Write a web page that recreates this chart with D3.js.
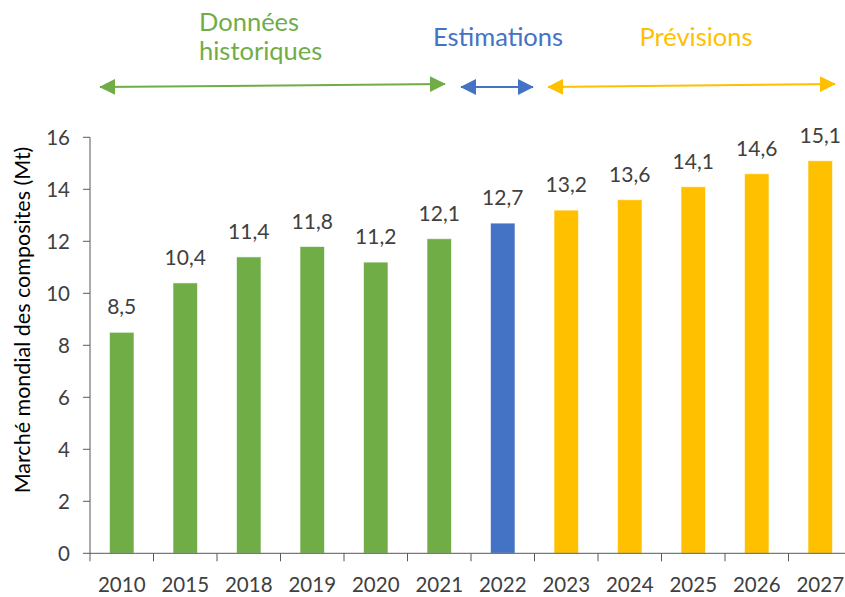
<!DOCTYPE html>
<html><head><meta charset="utf-8">
<script src="https://cdn.jsdelivr.net/npm/d3@7"></script>
<style>
html,body{margin:0;padding:0;background:#fff;}
svg{display:block;font-family:Lato, "Noto Sans", sans-serif;}
</style></head>
<body>
<svg id="chart" width="845" height="597"></svg>
<script>
const years = ["2010","2015","2018","2019","2020","2021","2022","2023","2024","2025","2026","2027"];
const values = [8.5,10.4,11.4,11.8,11.2,12.1,12.7,13.2,13.6,14.1,14.6,15.1];
const phases = ["hist","hist","hist","hist","hist","hist","est","prev","prev","prev","prev","prev"];
const yTicks = [0,2,4,6,8,10,12,14,16];
const phaseColors = {hist:"#70AD47", est:"#4472C4", prev:"#FFC000"};
const yTitle = "Marché mondial des composites (Mt)";
const headers = [
  {lines:["Données","historiques"], phase:"hist"},
  {lines:["Estimations"], phase:"est"},
  {lines:["Prévisions"], phase:"prev"}
];

const svg = d3.select("#chart");
const x = d3.scaleBand().domain(years).range([90, 852]).paddingInner(0.614).paddingOuter(0.307);
const y = d3.scaleLinear().domain([0,16]).range([553.3, 137.3]);
const fmt = v => d3.format(".1f")(v).replace(".", ",");

// bars
svg.append("g").selectAll("rect").data(years).join("rect")
  .attr("x", d => x(d))
  .attr("width", x.bandwidth())
  .attr("y", (d,i) => y(values[i]))
  .attr("height", (d,i) => y(0) - y(values[i]))
  .attr("fill", (d,i) => phaseColors[phases[i]])
  .attr("stroke", "#ffffff").attr("stroke-opacity", 0.6).attr("stroke-width", 1);

// value labels
svg.append("g").selectAll("text").data(years).join("text")
  .attr("x", d => x(d) + x.bandwidth()/2)
  .attr("y", (d,i) => y(values[i]) - 18)
  .attr("text-anchor", "middle")
  .attr("font-size", 21).attr("fill", "#404040")
  .text((d,i) => fmt(values[i]));

// y axis
const yAxis = svg.append("g");
yAxis.append("line").attr("x1", 90).attr("x2", 90).attr("y1", y(16)).attr("y2", y(0))
  .attr("stroke", "#595959").attr("stroke-width", 1);
yAxis.selectAll("line.t").data(yTicks).join("line").attr("class","t")
  .attr("x1", 83).attr("x2", 90).attr("y1", d => y(d)).attr("y2", d => y(d))
  .attr("stroke", "#595959");
yAxis.selectAll("text").data(yTicks).join("text")
  .attr("x", 70).attr("y", d => y(d)).attr("dy", "0.36em")
  .attr("text-anchor", "end").attr("font-size", 20.5).attr("fill", "#404040")
  .text(d => d);

// x axis
const xAxis = svg.append("g");
xAxis.append("line").attr("x1", 90).attr("x2", 852).attr("y1", y(0)).attr("y2", y(0))
  .attr("stroke", "#595959");
const step = x.step();
xAxis.selectAll("line.t").data(d3.range(years.length + 1)).join("line").attr("class","t")
  .attr("x1", i => 90 + i*step).attr("x2", i => 90 + i*step)
  .attr("y1", y(0)).attr("y2", y(0) + 8).attr("stroke", "#595959");
xAxis.selectAll("text").data(years).join("text")
  .attr("x", d => x(d) + x.bandwidth()/2).attr("y", 592)
  .attr("text-anchor", "middle").attr("font-size", 20.5).attr("fill", "#404040")
  .text(d => d);

// y title
svg.append("text")
  .attr("transform", "translate(30,320) rotate(-90)")
  .attr("text-anchor", "middle").attr("font-size", 21.5).attr("fill", "#000")
  .text(yTitle);

// headers
const headerPos = [{x:199, y:31, anchor:"start"}, {x:498, y:46, anchor:"middle"}, {x:696, y:46, anchor:"middle"}];
headers.forEach((h, k) => {
  h.lines.forEach((ln, j) => {
    svg.append("text").attr("font-size", 25.5).attr("fill", phaseColors[h.phase])
      .attr("text-anchor", headerPos[k].anchor)
      .attr("x", headerPos[k].x).attr("y", headerPos[k].y + j*29).text(ln);
  });
});

// arrows
const arrows = [
  {phase:"hist", x1:100, y1:87, x2:445, y2:84},
  {phase:"est", x1:461, y1:87, x2:533, y2:87},
  {phase:"prev", x1:548, y1:87, x2:835, y2:84}
];
const defs = svg.append("defs");
Object.entries(phaseColors).forEach(([k,c]) => {
  defs.append("marker").attr("id", "m-"+k).attr("viewBox", "0 0 10 10")
    .attr("refX", 9.5).attr("refY", 5).attr("markerWidth", 8).attr("markerHeight", 8)
    .attr("markerUnits", "strokeWidth").attr("orient", "auto-start-reverse")
    .append("path").attr("d", "M0,0 L10,5 L0,10 z").attr("fill", c);
});
svg.append("g").selectAll("line").data(arrows).join("line")
  .attr("x1", d => d.x1).attr("y1", d => d.y1).attr("x2", d => d.x2).attr("y2", d => d.y2)
  .attr("stroke", d => phaseColors[d.phase]).attr("stroke-width", 2)
  .attr("marker-start", d => `url(#m-${d.phase})`).attr("marker-end", d => `url(#m-${d.phase})`);
</script>
</body></html>
